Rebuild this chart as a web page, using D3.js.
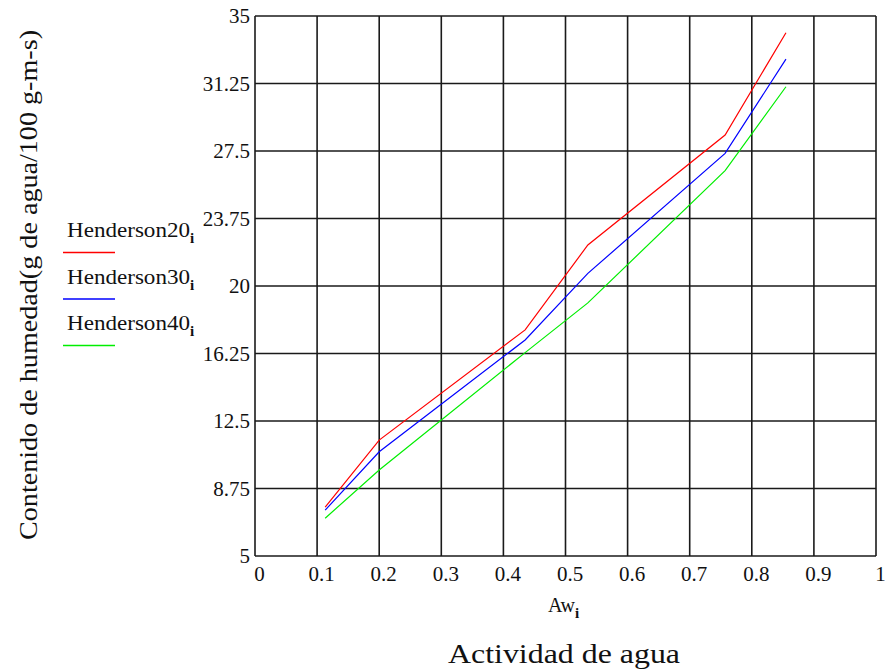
<!DOCTYPE html>
<html>
<head>
<meta charset="utf-8">
<script src="https://cdn.jsdelivr.net/npm/d3@7"></script>
<style>
  body { margin: 0; background: #fff; }
  svg { font-family: "Liberation Serif", "Times New Roman", serif; }
</style>
</head>
<body>
<svg id="canvas_svg" width="889" height="671"></svg>
<script>
// water activity points (Aw_i)
var aw = [0.113, 0.2, 0.435, 0.536, 0.757, 0.855];
// Henderson model values per temperature
var henderson20 = [7.71, 11.44, 17.56, 22.28, 28.39, 34.07];
var henderson30 = [7.55, 10.79, 17.0, 20.7, 27.37, 32.6];
var henderson40 = [7.1, 9.78, 16.3, 19.06, 26.41, 31.07];
var xTicks = [0, 0.1, 0.2, 0.3, 0.4, 0.5, 0.6, 0.7, 0.8, 0.9, 1];
var yTicks = [5, 8.75, 12.5, 16.25, 20, 23.75, 27.5, 31.25, 35];
var seriesNames = ["Henderson20", "Henderson30", "Henderson40"];
var seriesColors = ["#ff0000", "#0000ff", "#00ee00"];

var svg = d3.select("#canvas_svg");

var plotLeft = 255, plotRight = 876, plotTop = 16, plotBottom = 556;

var x = d3.scaleLinear().domain([0, 1]).range([plotLeft, plotRight]);
var y = d3.scaleLinear().domain([5, 35]).range([plotBottom, plotTop]);

// grid
var grid = svg.append("g").attr("class", "grid");
grid.selectAll("line.v")
  .data(xTicks)
  .enter().append("line")
  .attr("x1", d => x(d)).attr("x2", d => x(d))
  .attr("y1", plotTop).attr("y2", plotBottom)
  .attr("stroke", "#1a1a1a").attr("stroke-width", 1.6);
grid.selectAll("line.h")
  .data(yTicks)
  .enter().append("line")
  .attr("y1", d => y(d)).attr("y2", d => y(d))
  .attr("x1", plotLeft).attr("x2", plotRight)
  .attr("stroke", "#1a1a1a").attr("stroke-width", 1.6);

// axes labels
var xAxis = d3.axisBottom(x).tickValues(xTicks).tickSize(0).tickPadding(10)
  .tickFormat(d3.format("~g"));
var yAxis = d3.axisLeft(y).tickValues(yTicks).tickSize(0).tickPadding(5)
  .tickFormat(d3.format("~g"));

var gx = svg.append("g").attr("transform", "translate(0," + plotBottom + ")").call(xAxis);
var gy = svg.append("g").attr("transform", "translate(" + plotLeft + ",0)").call(yAxis);
[gx, gy].forEach(function(g) {
  g.select(".domain").remove();
  g.selectAll("text")
    .attr("font-family", "Liberation Serif, Times New Roman, serif")
    .attr("font-size", 21)
    .attr("fill", "#111");
});
gx.selectAll("text").attr("dx", 4);

// series lines
var line = d3.line()
  .x((d, i) => x(aw[i]))
  .y(d => y(d));

[henderson20, henderson30, henderson40].forEach(function(vals, k) {
  svg.append("path")
    .datum(vals)
    .attr("fill", "none")
    .attr("stroke", seriesColors[k])
    .attr("stroke-width", 1.2)
    .attr("d", line);
});

// legend
var legend = svg.append("g").attr("class", "legend");
seriesNames.forEach(function(name, k) {
  var base = 237 + k * 46.5;
  var t = legend.append("text")
    .attr("x", 67).attr("y", base)
    .attr("font-size", 21).attr("fill", "#111");
  t.append("tspan").text(name).attr("textLength", 123).attr("lengthAdjust", "spacingAndGlyphs");
  t.append("tspan").attr("dy", 6).attr("font-size", 15).attr("font-weight", "bold").text("i");
  legend.append("line")
    .attr("x1", 63).attr("x2", 115)
    .attr("y1", base + 15.5).attr("y2", base + 15.5)
    .attr("stroke", seriesColors[k]).attr("stroke-width", 1.5);
});

// axis titles
var awLabel = svg.append("text")
  .attr("x", 548).attr("y", 612)
  .attr("font-size", 20).attr("fill", "#111");
awLabel.append("tspan").text("Aw");
awLabel.append("tspan").attr("dy", 6).attr("font-size", 15).attr("font-weight", "bold").text("i");

svg.append("text")
  .attr("x", 448).attr("y", 663)
  .attr("font-size", 28).attr("fill", "#111")
  .attr("textLength", 232).attr("lengthAdjust", "spacingAndGlyphs")
  .text("Actividad de agua");

svg.append("text")
  .attr("transform", "translate(37,540) rotate(-90)")
  .attr("font-size", 25).attr("fill", "#111")
  .attr("textLength", 510).attr("lengthAdjust", "spacingAndGlyphs")
  .text("Contenido de humedad(g de agua/100 g-m-s)");
</script>
</body>
</html>
